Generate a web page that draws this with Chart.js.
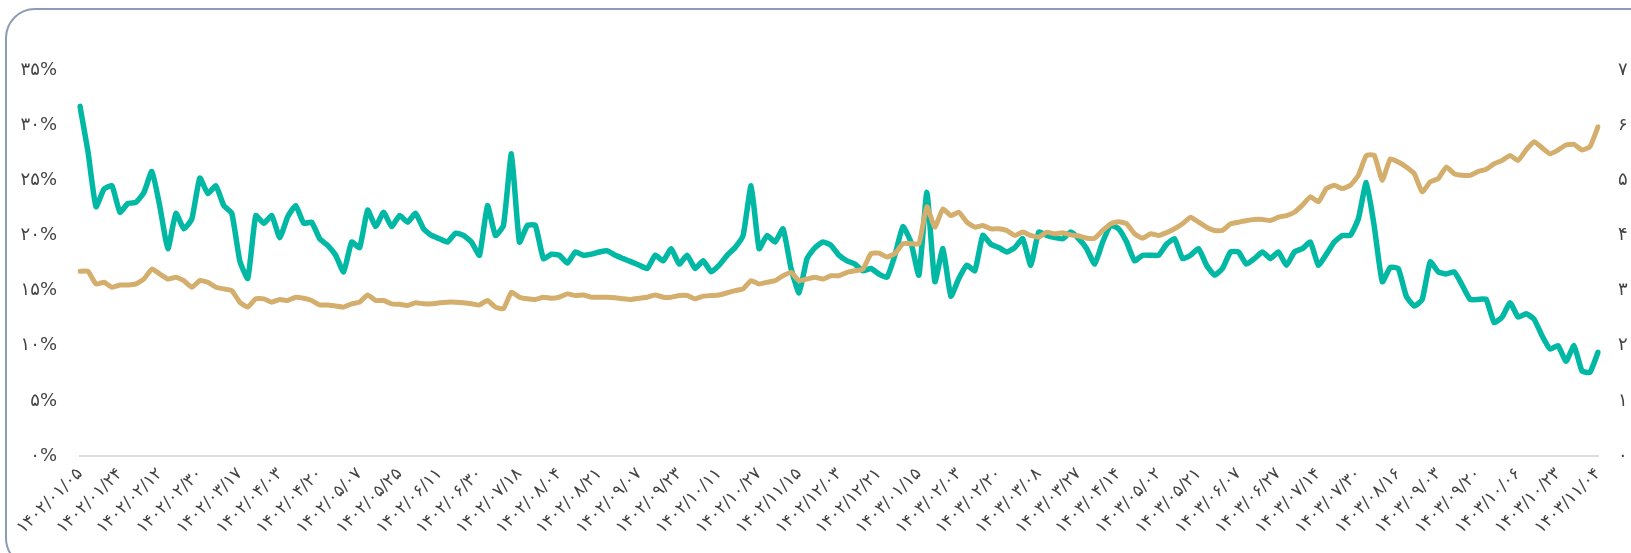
<!DOCTYPE html>
<html lang="fa">
<head>
<meta charset="utf-8">
<title>chart</title>
<script src="https://cdn.jsdelivr.net/npm/chart.js@4.4.1/dist/chart.umd.min.js"></script>
<style>
  html, body { margin: 0; padding: 0; background: #ffffff; overflow: hidden; }
  body { width: 1631px; height: 553px; position: relative; }
  .card {
    position: absolute; left: 5px; top: 8px; width: 1700px; height: 560px;
    border: 2px solid #8d9bb4; border-radius: 30px; box-sizing: border-box; background: #fff;
  }
  #chart { position: absolute; left: 0; top: 0; }
</style>
</head>
<body>
<div class="card"></div>
<canvas id="chart" width="1658" height="553"></canvas>
<script>
// tick labels on the date axis (one every 5 points)
var tickLabels = [
  "۱۴۰۲/۰۱/۰۵","۱۴۰۲/۰۱/۲۴","۱۴۰۲/۰۲/۱۲","۱۴۰۲/۰۲/۳۰","۱۴۰۲/۰۳/۱۷","۱۴۰۲/۰۴/۰۳","۱۴۰۲/۰۴/۲۰",
  "۱۴۰۲/۰۵/۰۷","۱۴۰۲/۰۵/۲۵","۱۴۰۲/۰۶/۱۱","۱۴۰۲/۰۶/۳۰","۱۴۰۲/۰۷/۱۸","۱۴۰۲/۰۸/۰۴","۱۴۰۲/۰۸/۲۱",
  "۱۴۰۲/۰۹/۰۷","۱۴۰۲/۰۹/۲۳","۱۴۰۲/۱۰/۱۱","۱۴۰۲/۱۰/۲۷","۱۴۰۲/۱۱/۱۵","۱۴۰۲/۱۲/۰۳","۱۴۰۲/۱۲/۲۱",
  "۱۴۰۳/۰۱/۱۵","۱۴۰۳/۰۲/۰۳","۱۴۰۳/۰۲/۲۰","۱۴۰۳/۰۳/۰۸","۱۴۰۳/۰۳/۲۷","۱۴۰۳/۰۴/۱۴","۱۴۰۳/۰۵/۰۲",
  "۱۴۰۳/۰۵/۲۱","۱۴۰۳/۰۶/۰۷","۱۴۰۳/۰۶/۲۷","۱۴۰۳/۰۷/۱۴","۱۴۰۳/۰۷/۳۰","۱۴۰۳/۰۸/۱۶","۱۴۰۳/۰۹/۰۳",
  "۱۴۰۳/۰۹/۲۰","۱۴۰۳/۱۰/۰۶","۱۴۰۳/۱۰/۲۳","۱۴۰۳/۱۱/۰۴"
];
var pointsPerTick = 5;

// left axis (%)
var tealValues = [
  31.7, 27.6, 22.6, 24.2, 24.5, 22.1, 22.9, 23.0, 23.9, 25.8,
  22.6, 18.8, 22.0, 20.6, 21.5, 25.2, 23.8, 24.5, 22.7, 22.0,
  17.7, 16.1, 21.8, 21.1, 21.8, 19.8, 21.7, 22.7, 21.1, 21.2,
  19.7, 19.1, 18.2, 16.7, 19.4, 18.9, 22.3, 20.8, 22.1, 20.8,
  21.8, 21.2, 22.0, 20.6, 20.0, 19.7, 19.4, 20.2, 20.0, 19.4,
  18.2, 22.7, 20.0, 20.9, 27.4, 19.4, 20.9, 20.9, 17.9, 18.3,
  18.2, 17.5, 18.5, 18.2, 18.3, 18.5, 18.6, 18.2, 17.9, 17.6,
  17.3, 17.0, 18.2, 17.7, 18.8, 17.4, 18.2, 17.0, 17.7, 16.7,
  17.3, 18.2, 18.9, 20.0, 24.5, 18.8, 20.0, 19.4, 20.6, 17.0,
  14.8, 17.9, 18.9, 19.4, 19.1, 18.2, 17.7, 17.4, 16.8, 17.0,
  16.5, 16.2, 18.2, 20.8, 19.4, 16.4, 23.9, 15.8, 18.8, 14.5,
  16.1, 17.3, 16.8, 20.0, 19.2, 18.9, 18.5, 18.9, 19.7, 17.3,
  20.3, 20.0, 19.8, 19.7, 20.3, 19.7, 18.8, 17.4, 19.4, 20.9,
  20.6, 19.4, 17.7, 18.2, 18.2, 18.2, 19.2, 19.7, 17.9, 18.2,
  18.8, 17.3, 16.4, 17.0, 18.5, 18.5, 17.4, 17.9, 18.5, 17.9,
  18.5, 17.3, 18.5, 18.8, 19.4, 17.3, 18.3, 19.4, 20.0, 20.0,
  21.5, 24.8, 20.8, 15.8, 17.1, 17.0, 14.5, 13.6, 14.2, 17.6,
  16.7, 16.5, 16.7, 15.5, 14.2, 14.2, 14.2, 12.1, 12.6, 13.9,
  12.6, 12.9, 12.4, 10.9, 9.7, 10.0, 8.6, 10.0, 7.7, 7.6, 9.4
];

// right axis
var tanValues = [
  33.5, 33.5, 31.2, 31.5, 30.6, 31.0, 31.0, 31.2, 32.1, 33.9,
  33.0, 32.1, 32.4, 31.8, 30.6, 31.8, 31.5, 30.6, 30.3, 30.0,
  27.9, 27.0, 28.5, 28.5, 27.9, 28.4, 28.2, 28.8, 28.6, 28.2,
  27.4, 27.4, 27.2, 27.0, 27.6, 27.9, 29.2, 28.2, 28.2, 27.6,
  27.5, 27.3, 27.8, 27.6, 27.6, 27.8, 27.9, 27.9, 27.8, 27.6,
  27.4, 28.2, 27.0, 26.7, 29.7, 28.8, 28.5, 28.4, 28.8, 28.6,
  28.8, 29.4, 29.1, 29.2, 28.8, 28.8, 28.8, 28.7, 28.5, 28.4,
  28.6, 28.8, 29.2, 28.8, 28.8, 29.1, 29.1, 28.5, 29.0, 29.1,
  29.2, 29.6, 30.0, 30.3, 31.8, 31.2, 31.5, 31.8, 32.7, 33.3,
  31.8, 32.1, 32.4, 32.1, 32.7, 32.7, 33.3, 33.6, 33.9, 36.7,
  36.8, 36.1, 36.7, 38.5, 38.5, 38.5, 45.2, 41.5, 44.8, 43.6,
  44.2, 42.4, 41.5, 41.8, 41.2, 41.2, 40.9, 40.0, 40.6, 40.0,
  39.7, 40.6, 40.3, 40.5, 40.1, 39.9, 39.5, 39.5, 40.9, 42.1,
  42.5, 42.1, 40.3, 39.5, 40.3, 40.0, 40.5, 41.2, 42.1, 43.3,
  42.4, 41.5, 40.9, 40.9, 42.1, 42.4, 42.7, 42.9, 42.9, 42.7,
  43.3, 43.6, 44.2, 45.5, 47.0, 46.1, 48.5, 49.1, 48.5, 49.1,
  50.9, 54.5, 54.5, 50.0, 53.9, 53.3, 52.4, 51.2, 47.9, 49.7,
  50.3, 52.4, 51.2, 50.9, 50.9, 51.6, 52.0, 53.0, 53.6, 54.5,
  53.6, 55.5, 57.0, 55.9, 54.8, 55.5, 56.4, 56.5, 55.5, 56.1, 59.7
];

var faDigits = "۰۱۲۳۴۵۶۷۸۹";
function toFa(n) {
  return String(n).replace(/[0-9]/g, function(d) { return faDigits[+d]; });
}

var labels = [];
for (var i = 0; i < tealValues.length; i++) {
  labels.push(i % pointsPerTick === 0 ? tickLabels[i / pointsPerTick] : "");
}

var xFont = { family: "'DejaVu Sans', sans-serif", size: 17 };
var yFont = { family: "'DejaVu Sans', sans-serif", size: 18 };

var ctx = document.getElementById("chart");
var chart = new Chart(ctx, {
  type: 'line',
  data: {
    labels: labels,
    datasets: [
      {
        data: tanValues,
        yAxisID: 'y1',
        borderColor: '#d4ae6c',
        borderWidth: 5,
        pointRadius: 0,
        tension: 0.15,
        order: 1
      },
      {
        data: tealValues,
        yAxisID: 'y',
        borderColor: '#00b8a3',
        borderWidth: 5.5,
        pointRadius: 0,
        tension: 0.15,
        order: 2
      }
    ]
  },
  options: {
    responsive: false,
    animation: false,
    devicePixelRatio: 1,
    layout: { padding: { top: 70, left: 0, right: 0, bottom: 0 } },
    plugins: { legend: { display: false }, tooltip: { enabled: false } },
    elements: { line: { borderCapStyle: 'round', borderJoinStyle: 'round' } },
    scales: {
      x: {
        grid: { display: false, drawTicks: false },
        border: { display: true, color: '#dcdcdc', width: 2 },
        ticks: {
          autoSkip: false, maxRotation: 45, minRotation: 45,
          color: '#444', font: xFont, padding: 8
        },
        afterFit: function(scale) { scale.height = 97; }
      },
      y: {
        position: 'left',
        min: 0, max: 35,
        grid: { display: false, drawTicks: false },
        border: { display: false },
        ticks: {
          stepSize: 5, color: '#444', font: yFont, padding: 23,
          callback: function(v) { return toFa(v) + '%'; }
        },
        afterFit: function(scale) { scale.width = 80; }
      },
      y1: {
        position: 'right',
        min: 0, max: 70,
        grid: { display: false, drawTicks: false },
        border: { display: false },
        ticks: {
          stepSize: 10, color: '#444', font: yFont, padding: 20,
          callback: function(v) { return toFa(v); }
        },
        afterFit: function(scale) { scale.width = 60; }
      }
    }
  }
});
</script>
</body>
</html>
